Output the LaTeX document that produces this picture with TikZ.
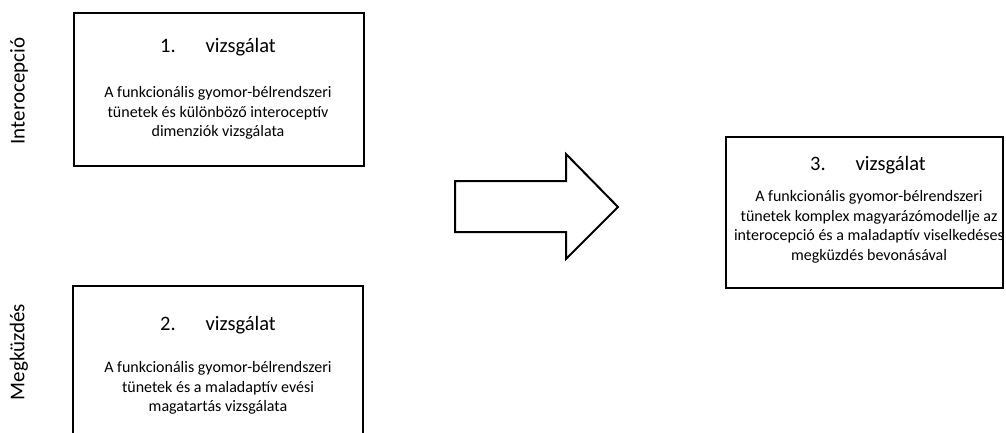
\documentclass[tikz,border=0pt]{standalone}
\usepackage{fontspec}
\setmainfont{Carlito}
\begin{document}
\begin{tikzpicture}[x=1pt,y=-1pt,
  box/.style={draw=black,line width=2pt,inner sep=0pt},
  ttl/.style={inner sep=0pt,font=\fontsize{20.5}{24}\selectfont},
  body/.style={inner sep=0pt,align=center,font=\fontsize{16}{19.5}\selectfont},
  side/.style={inner sep=0pt,rotate=90,font=\fontsize{21}{25}\selectfont}]
\clip (0,0) rectangle (1006,432);
\fill[white] (0,0) rectangle (1006,432);
% boxes
\node[box,minimum width=290pt,minimum height=153pt] (b1) at (218.5,89.5) {};
\node[box,minimum width=290pt,minimum height=170pt] (b2) at (218,371) {};
\node[box,minimum width=277pt,minimum height=151pt] (b3) at (864.5,212.5) {};
% titles
\node[ttl] (t1) at (218,47) {1.\hspace{30pt}vizsgálat};
\node[ttl] (t2) at (218,325) {2.\hspace{30pt}vizsgálat};
\node[ttl] (t3) at (868,165) {3.\hspace{30pt}vizsgálat};
% bodies
\node[body] (d1) at (218,113) {A funkcionális gyomor-bélrendszeri\\tünetek és különböző interoceptív\\dimenziók vizsgálata};
\node[body] (d2) at (218,388) {A funkcionális gyomor-bélrendszeri\\tünetek és a maladaptív evési\\magatartás vizsgálata};
\node[body] (d3) at (869,227) {A funkcionális gyomor-bélrendszeri\\tünetek komplex magyarázómodellje az\\interocepció és a maladaptív viselkedéses\\megküzdés bevonásával};
% side labels
\node[side] (s1) at (19,91) {Interocepció};
\node[side] (s2) at (19,352) {Megküzdés};
% block arrow
\draw[line width=2pt,line join=miter,fill=white]
  (455,181) -- (566,181) -- (566,154) -- (618,207) -- (566,259) -- (566,232) -- (455,232) -- cycle;
\end{tikzpicture}
\end{document}
